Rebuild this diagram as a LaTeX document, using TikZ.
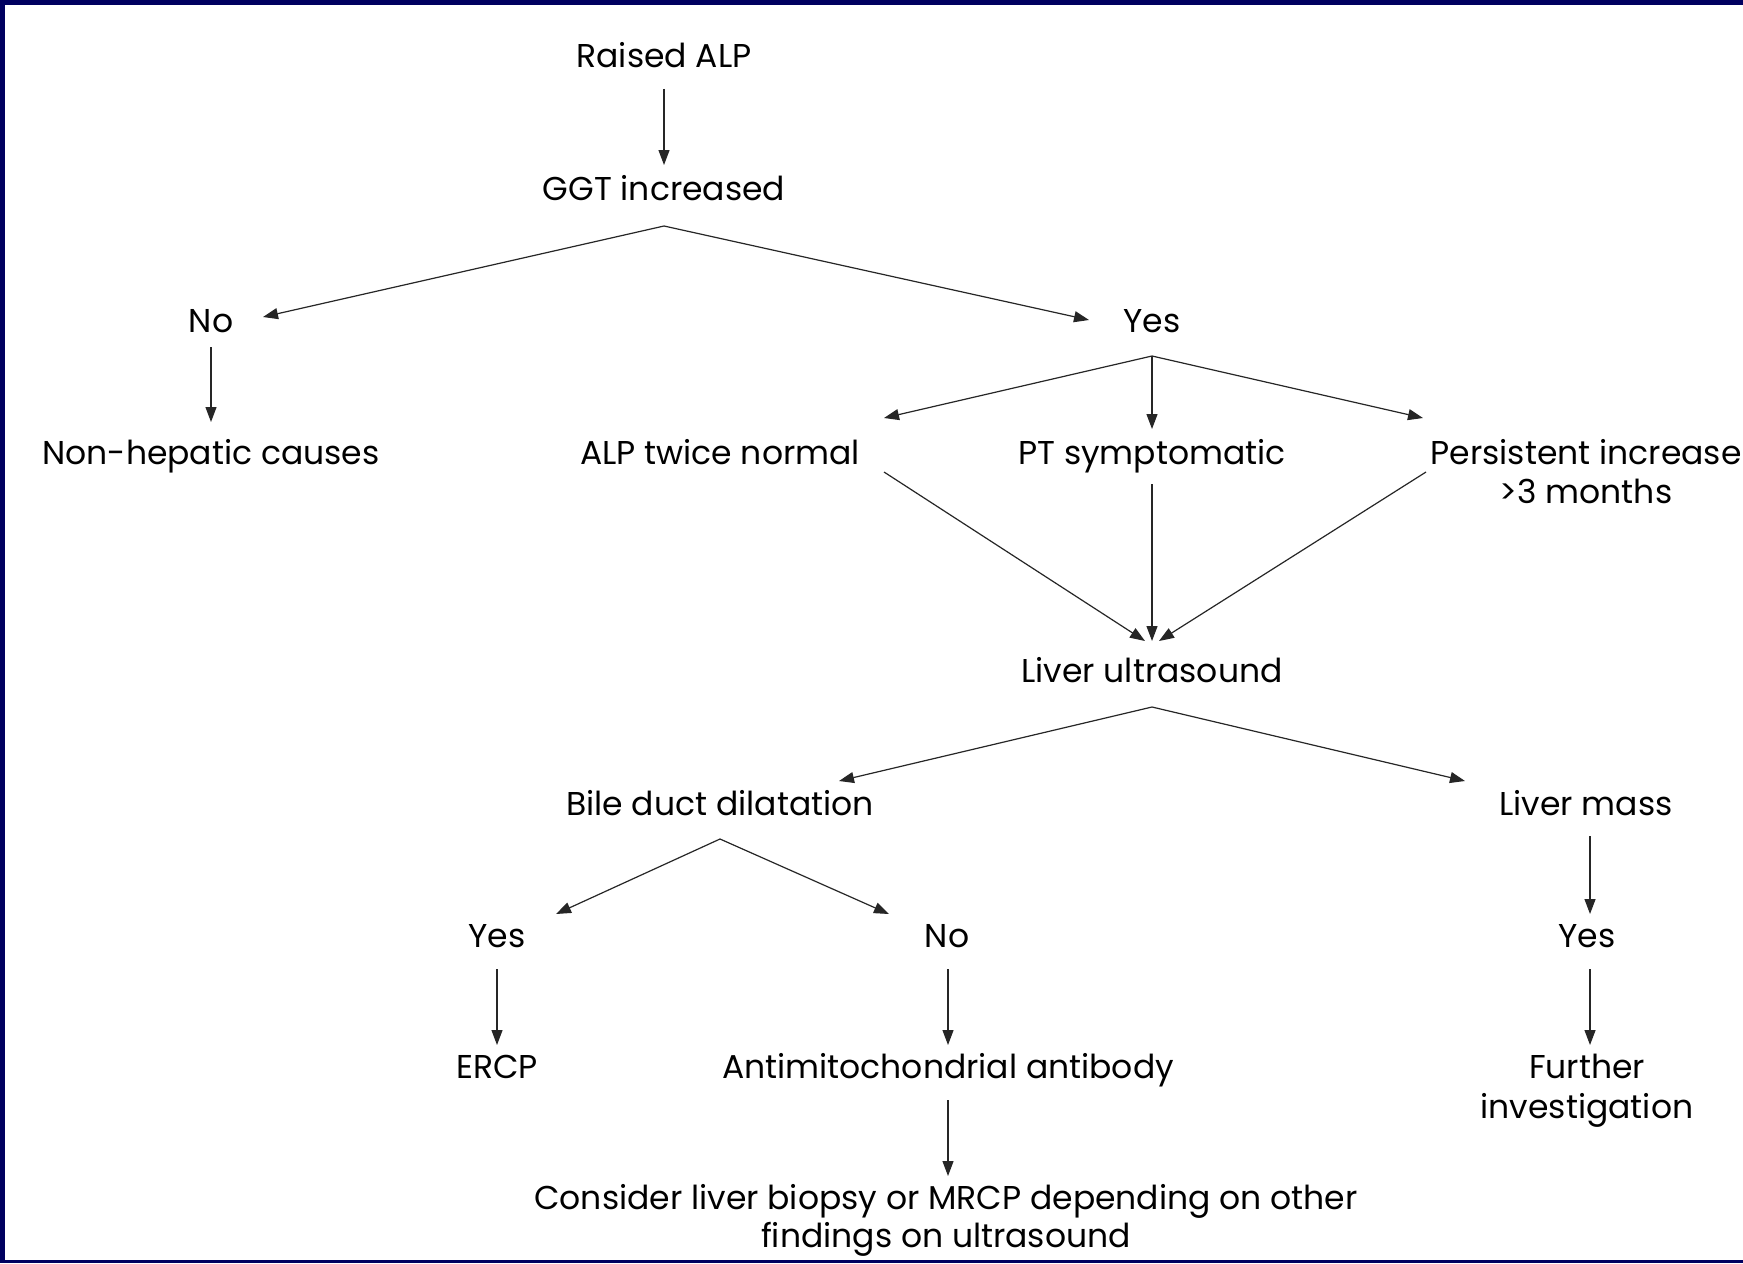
\documentclass[tikz,border=0pt]{standalone}
\usepackage{fontspec}
\setmainfont{Poppins}
\usetikzlibrary{arrows.meta}
\definecolor{frame}{RGB}{0,0,96}
\begin{document}
\begin{tikzpicture}[x=0.5pt,y=-0.5pt,
  lbl/.style={anchor=base,inner sep=0pt,align=center,font=\fontsize{16.5}{19.5}\selectfont},
  conn/.style={draw=black!85,line width=0.6pt,-{Triangle[length=7.5pt,width=5.5pt]}}]
\useasboundingbox (0,0) rectangle (1743,1263);
\fill[white] (0,0) rectangle (1743,1263);
\fill[frame] (0,0) rectangle (5,1263);
\fill[frame] (0,0) rectangle (1743,5);
\fill[frame] (0,1260) rectangle (1743,1263);
% nodes (multi-line nodes are placed at the baseline of their last line)
\node[lbl] (raised) at (664,68) {Raised ALP};
\node[lbl] (ggt) at (664,200) {GGT increased};
\node[lbl] (no1) at (211,332) {No};
\node[lbl] (yes1) at (1152,332) {Yes};
\node[lbl] (nonhep) at (211,464) {Non-hepatic causes};
\node[lbl] (alp2) at (720,464) {ALP twice normal};
\node[lbl] (pt) at (1152,464) {PT symptomatic};
\node[lbl] (pers) at (1586,503) {Persistent increase\\>3 months};
\node[lbl] (lus) at (1152,682) {Liver ultrasound};
\node[lbl] (bile) at (720,815) {Bile duct dilatation};
\node[lbl] (mass) at (1586,815) {Liver mass};
\node[lbl] (yes2) at (497,947) {Yes};
\node[lbl] (no2) at (947,947) {No};
\node[lbl] (yes3) at (1587,947) {Yes};
\node[lbl] (ercp) at (497,1078) {ERCP};
\node[lbl] (ama) at (948,1078) {Antimitochondrial antibody};
\node[lbl,font=\fontsize{16.5}{20}\selectfont] (further) at (1587,1118) {Further\\investigation};
\node[lbl,font=\fontsize{16.5}{19}\selectfont] (consider) at (946,1247) {Consider liver biopsy or MRCP depending on other\\findings on ultrasound};
% connector points
\coordinate (raisedOut) at (664,89);
\coordinate (ggtIn) at (664,165);
\coordinate (ggtOut) at (664,226);
\coordinate (no1In) at (263,317);
\coordinate (yes1In) at (1089,320);
\coordinate (no1Out) at (211,347);
\coordinate (nonhepIn) at (211,422);
\coordinate (yes1Out) at (1152,356);
\coordinate (alp2In) at (884,418);
\coordinate (ptIn) at (1152,429);
\coordinate (persIn) at (1423,418);
\coordinate (alp2Out) at (884,472);
\coordinate (ptOut) at (1152,484);
\coordinate (persOut) at (1426,472);
\coordinate (lusInA) at (1145,641);
\coordinate (lusInB) at (1152,641);
\coordinate (lusInC) at (1159,641);
\coordinate (lusOut) at (1152,707);
\coordinate (bileIn) at (839,781);
\coordinate (massIn) at (1465,781);
\coordinate (bileOut) at (720,839);
\coordinate (yes2In) at (556,914);
\coordinate (no2In) at (889,914);
\coordinate (yes2Out) at (497,969);
\coordinate (ercpIn) at (497,1045);
\coordinate (no2Out) at (948,969);
\coordinate (amaIn) at (948,1045);
\coordinate (amaOut) at (948,1100);
\coordinate (considerIn) at (948,1176);
\coordinate (massOut) at (1590,836);
\coordinate (yes3In) at (1590,914);
\coordinate (yes3Out) at (1590,969);
\coordinate (furtherIn) at (1590,1045);
% connectors
\draw[conn] (raisedOut) -- (ggtIn);
\draw[conn] (ggtOut) -- (no1In);
\draw[conn] (ggtOut) -- (yes1In);
\draw[conn] (no1Out) -- (nonhepIn);
\draw[conn] (yes1Out) -- (alp2In);
\draw[conn] (yes1Out) -- (ptIn);
\draw[conn] (yes1Out) -- (persIn);
\draw[conn] (alp2Out) -- (lusInA);
\draw[conn] (ptOut) -- (lusInB);
\draw[conn] (persOut) -- (lusInC);
\draw[conn] (lusOut) -- (bileIn);
\draw[conn] (lusOut) -- (massIn);
\draw[conn] (bileOut) -- (yes2In);
\draw[conn] (bileOut) -- (no2In);
\draw[conn] (yes2Out) -- (ercpIn);
\draw[conn] (no2Out) -- (amaIn);
\draw[conn] (amaOut) -- (considerIn);
\draw[conn] (massOut) -- (yes3In);
\draw[conn] (yes3Out) -- (furtherIn);
\end{tikzpicture}
\end{document}
